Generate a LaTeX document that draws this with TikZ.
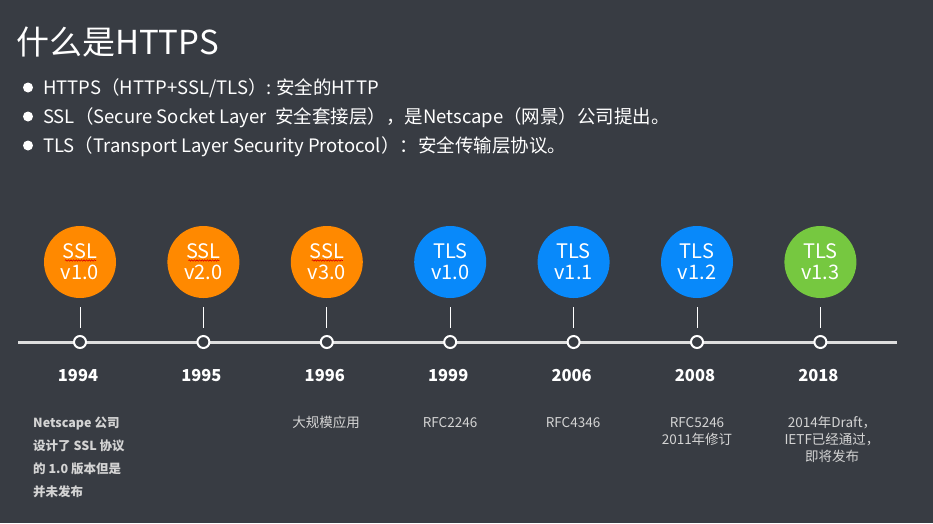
\documentclass[tikz,border=0pt]{standalone}
\usepackage{fontspec}
\setmainfont{Noto Sans CJK SC}
\usetikzlibrary{decorations.pathmorphing,calc}
\definecolor{bgdark}{RGB}{56,60,67}
\definecolor{sslorange}{RGB}{255,137,0}
\definecolor{tlsblue}{RGB}{8,137,250}
\definecolor{tlsgreen}{RGB}{118,200,64}
\definecolor{notegray}{RGB}{212,212,212}
\definecolor{linegray}{RGB}{222,222,222}
\tikzset{
  ver/.style={circle,minimum size=72pt,inner sep=0pt,text=white,align=center,
    font=\fontsize{20}{21}\selectfont},
  dot/.style={circle,minimum size=12pt,inner sep=0pt,draw=white,line width=2pt,fill=bgdark},
  yearlbl/.style={text=white,anchor=base,font=\bfseries\fontsize{16.5}{18}\selectfont},
  note/.style={text=notegray,anchor=base,align=center,font=\fontsize{13.5}{17}\selectfont},
  squiggle/.style={red!85!black,line width=0.6pt,decorate,
    decoration={snake,amplitude=0.7pt,segment length=2.6pt}}
}
\begin{document}
\begin{tikzpicture}[x=1pt,y=-1pt]
  \fill[bgdark] (0,0) rectangle (933,523);
  \useasboundingbox (0,0) rectangle (933,523);
  % title and bullet lines
  \node[text=white,anchor=base west,font=\fontsize{33}{35}\selectfont,inner sep=0pt] (title) at (16,54) {什么是HTTPS};
  \foreach \y/\t [count=\k] in {94/{HTTPS（HTTP+SSL/TLS）: 安全的HTTP},
      123/{SSL（Secure Socket Layer~~安全套接层），是Netscape（网景）公司提出。},
      152/{TLS（Transport Layer Security Protocol）：安全传输层协议。}} {
    \fill[white] (28,\y-6.5) circle (5pt);
    \node[text=white,anchor=base west,inner sep=0pt,font=\fontsize{18.5}{20}\selectfont] (b\k) at (43,\y) {\t};
  }
  % time line
  \coordinate (tl) at (18,342);
  \coordinate (tr) at (897,342);
  \draw[linegray,line width=3pt] (tl) -- (tr);
  % versions
  \foreach \c/\n/\v/\yr [count=\i] in {sslorange/SSL/v1.0/1994,sslorange/SSL/v2.0/1995,
      sslorange/SSL/v3.0/1996,tlsblue/TLS/v1.0/1999,tlsblue/TLS/v1.1/2006,
      tlsblue/TLS/v1.2/2008,tlsgreen/TLS/v1.3/2018} {
    \pgfmathsetmacro\xx{80+123.4*(\i-1)}
    \node[ver,fill=\c] (v\i) at (\xx,262) {\n\\\v};
    \node[dot] (d\i) at (\xx,342) {};
    \draw[white,line width=0.8pt,shorten <=9pt,shorten >=7pt] (v\i) -- (d\i);
    \node[yearlbl] (y\i) at (\xx-2,381) {\yr};
  }
  % spell-check marks under SSL
  \foreach \i in {1,2,3} {
    \draw[squiggle] ($(v\i)+(-15,-1.5)$) -- ++(31,0);
  }
  % notes (base anchor sits on the last line)
  \foreach \yy/\t [count=\k] in {427/{Netscape 公司},450/{设计了 SSL 协议},473/{的 1.0 版本但是},496/{并未发布}} {
    \node[note,anchor=base west,inner sep=0pt,font=\bfseries\fontsize{12.5}{14}\selectfont] (n1\k) at (33,\yy) {\t};
  }
  \node[note] (n3) at (326,427) {大规模应用};
  \node[note] (n4) at (450,427) {RFC2246};
  \node[note] (n5) at (573,427) {RFC4346};
  \node[note] (n6) at (697,444) {RFC5246\\2011年修订};
  \node[note] (n7) at (832,461) {2014年Draft，\\IETF已经通过，\\即将发布};
\end{tikzpicture}
\end{document}
